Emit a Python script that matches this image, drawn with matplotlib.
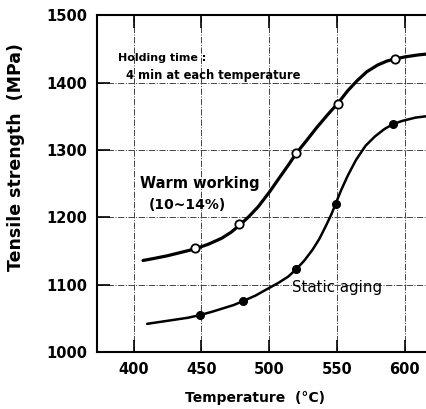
import matplotlib
matplotlib.use('Agg')
import matplotlib.pyplot as plt

# measured points
warm_t = [445, 478, 520, 551, 593]
warm_s = [1154, 1190, 1295, 1368, 1435]
static_t = [449, 481, 520, 549, 591]
static_s = [1055, 1076, 1123, 1220, 1338]

# fitted curves
warm_curve_t = [407, 415, 425, 435, 445, 455, 465, 472, 478, 485, 492, 500, 508, 515,
                520, 528, 535, 543, 551, 558, 565, 572, 580, 587, 593, 600, 610, 620]
warm_curve_s = [1136, 1139, 1143, 1148, 1153, 1160, 1169, 1178, 1188, 1201, 1216, 1237, 1260, 1280,
                1295, 1315, 1333, 1352, 1370, 1388, 1403, 1416, 1426, 1432, 1435, 1438, 1441, 1443]
static_curve_t = [410, 420, 430, 440, 449, 458, 466, 474, 481, 490, 498, 507, 514, 520, 526,
                  532, 537, 542, 546, 549, 553, 558, 564, 571, 578, 585, 591, 598, 608, 620]
static_curve_s = [1042, 1045, 1048, 1051, 1055, 1060, 1065, 1070, 1076, 1084, 1093, 1103, 1112, 1123, 1136,
                  1152, 1168, 1188, 1205, 1220, 1240, 1262, 1285, 1306, 1320, 1331, 1338, 1343, 1348, 1351]

x_ticks = [400, 450, 500, 550, 600]
y_ticks = [1000, 1100, 1200, 1300, 1400, 1500]

fig = plt.figure(figsize=(4.27, 4.09), dpi=100)
ax = fig.add_axes([0.227, 0.139, 0.78, 0.824])

ax.plot(warm_curve_t, warm_curve_s, color='black', lw=2.3, zorder=3,
        solid_joinstyle='round', solid_capstyle='round')
ax.plot(warm_t, warm_s, 'o', ms=6, mfc='white', mec='black', mew=1.3, zorder=4)
ax.plot(static_curve_t, static_curve_s, color='black', lw=1.8, zorder=3,
        solid_joinstyle='round', solid_capstyle='round')
ax.plot(static_t, static_s, 'o', ms=5.5, color='black', zorder=4)

ax.set_xlim(373, 618.6)
ax.set_ylim(1000, 1500)
ax.set_xticks(x_ticks)
ax.set_yticks(y_ticks)
ax.grid(True, color='#444444', lw=0.7, ls='-.')
ax.tick_params(direction='in', length=9, width=1.2, top=True, labelsize=10.5, pad=7)
for lab in ax.get_xticklabels() + ax.get_yticklabels():
    lab.set_fontweight('bold')
ax.spines['right'].set_visible(False)
for s in ['left', 'bottom', 'top']:
    ax.spines[s].set_linewidth(1.5)

ax.set_xlabel('Temperature  (°C)', fontsize=10, fontweight='bold')
ax.xaxis.set_label_coords(0.476, -0.115)
ax.set_ylabel('Tensile strength  (MPa)', fontsize=12.5, fontweight='bold')
ax.yaxis.set_label_coords(-0.215, 0.58)

ax.text(388.9, 1437, 'Holding time :', fontsize=8, fontweight='bold', va='center')
ax.text(394.8, 1411, '4 min at each temperature', fontsize=8.3, fontweight='bold', va='center')
ax.text(405, 1250, 'Warm working', fontsize=10.5, fontweight='bold', va='center')
ax.text(411, 1218, '(10~14%)', fontsize=10, fontweight='bold', va='center')
ax.text(516.6, 1096, 'Static aging', fontsize=10.8, va='center')

fig.savefig('out.png', dpi=100)
